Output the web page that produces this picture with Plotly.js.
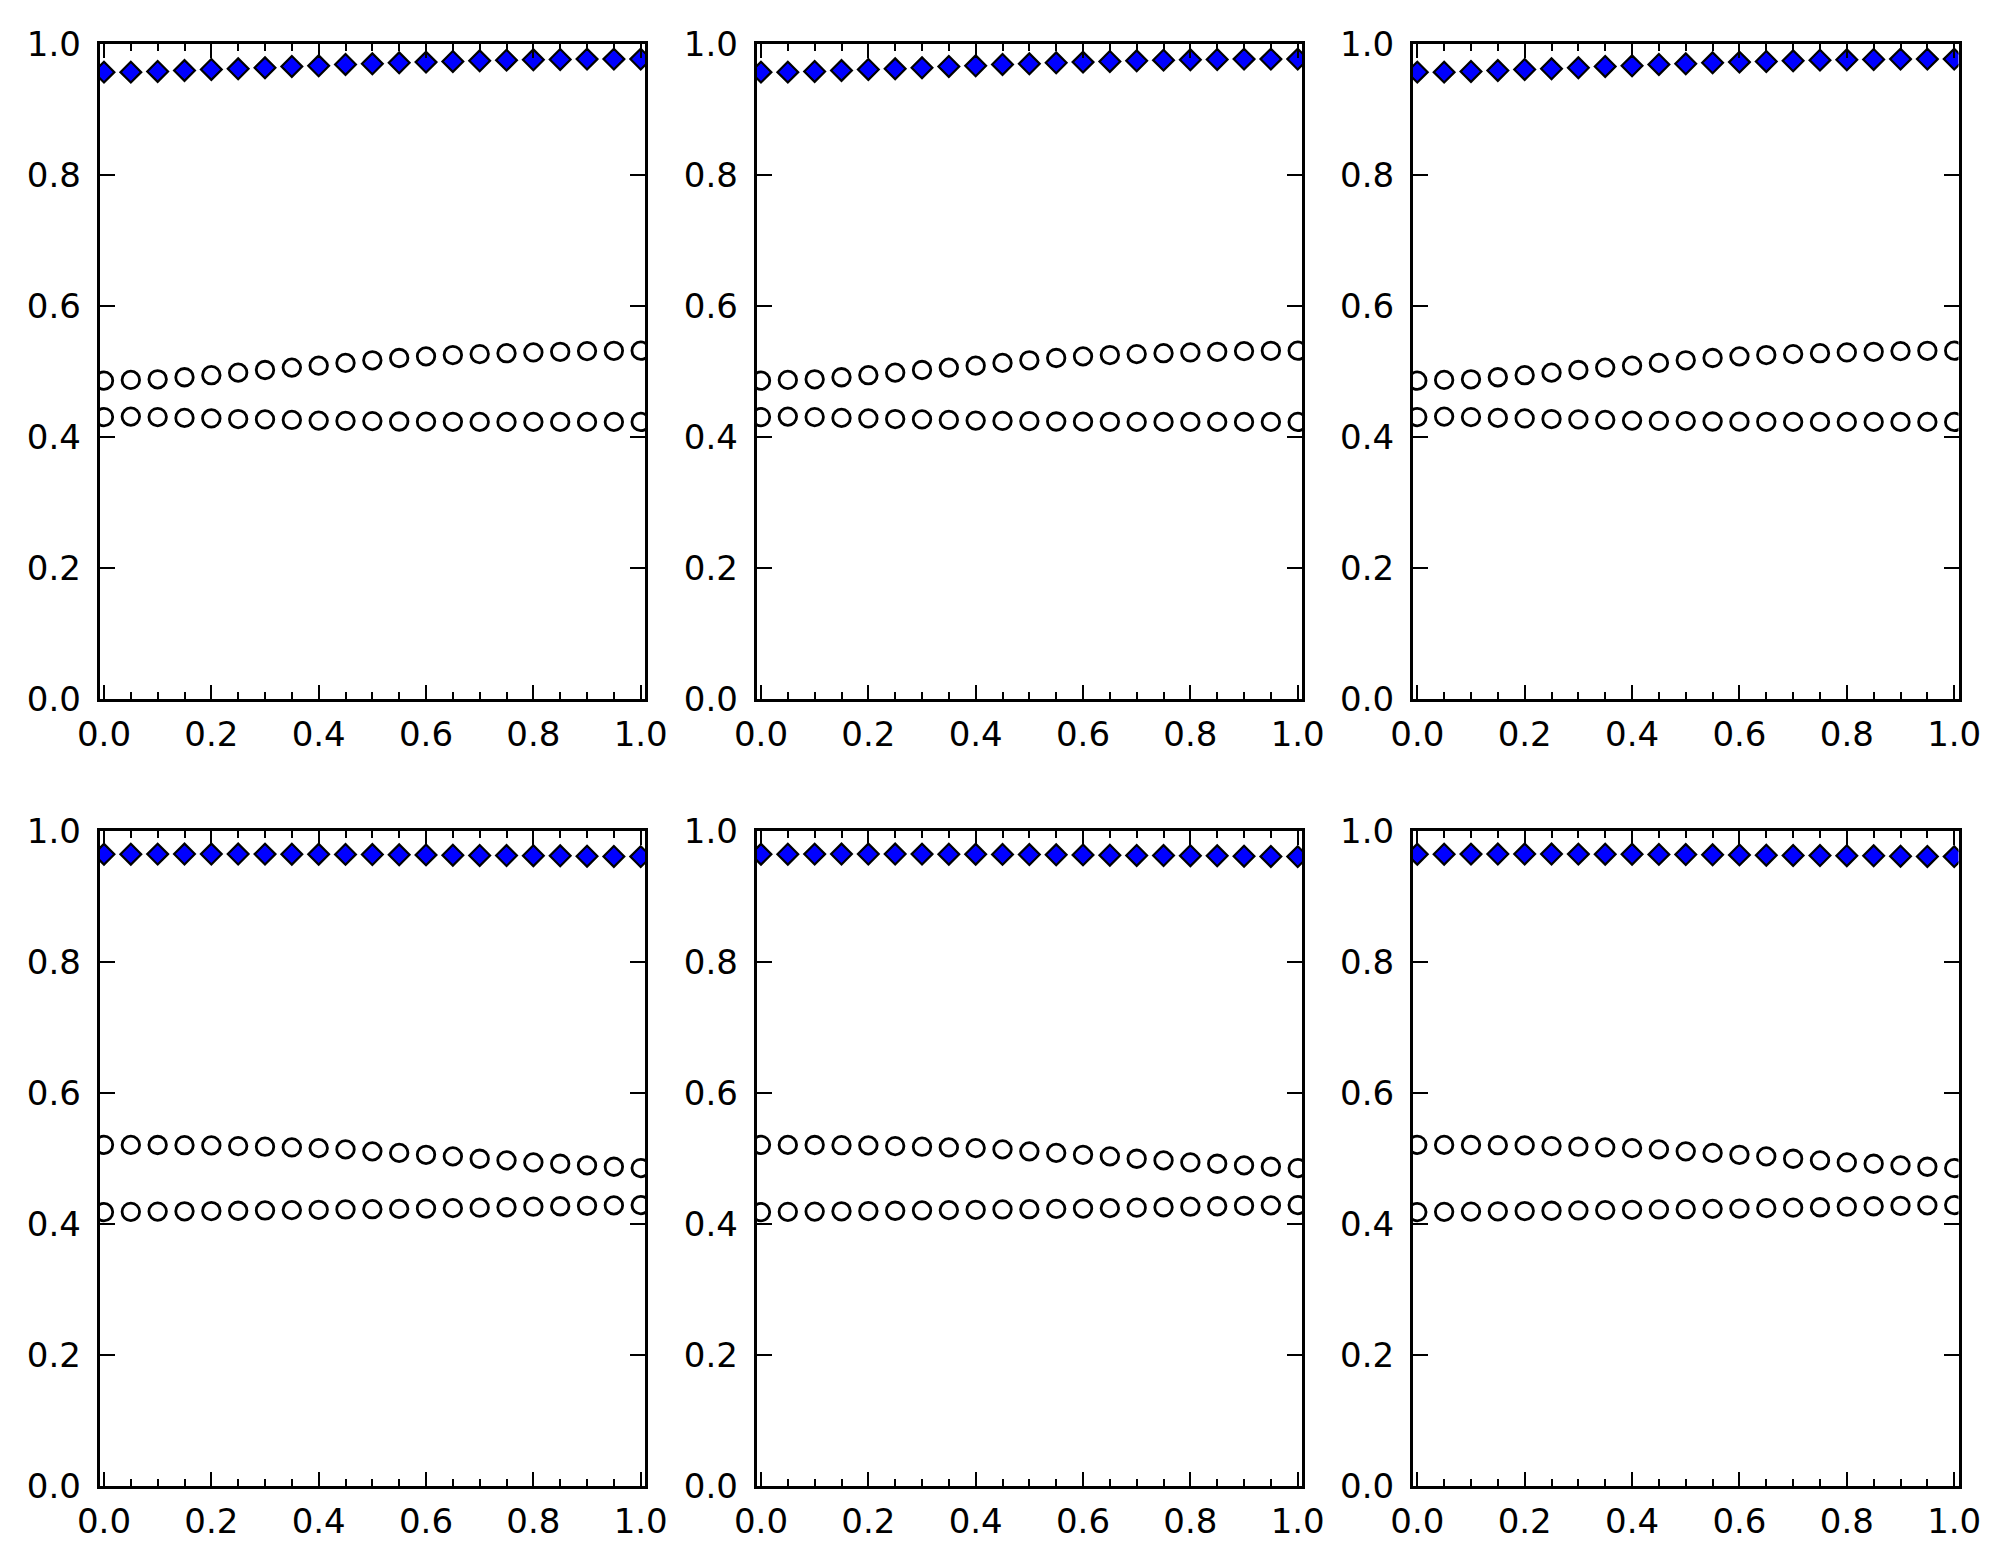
<!DOCTYPE html>
<html>
<head>
<meta charset="utf-8">
<script src="https://cdn.plot.ly/plotly-3.0.1.min.js"></script>
<style>html,body{margin:0;padding:0;background:#fff;}#chart{width:2011px;height:1565px;}</style>
</head>
<body>
<div id="chart"></div>
<script>
// ---- data ----
const xValues = [0.0, 0.05, 0.1, 0.15, 0.2, 0.25, 0.3, 0.35, 0.4, 0.45, 0.5, 0.55, 0.6, 0.65, 0.7, 0.75, 0.8, 0.85, 0.9, 0.95, 1.0];

// top row (panels 1-3)
const topDiamond = [0.9575, 0.9575, 0.9585, 0.9600, 0.9616, 0.9626, 0.9641, 0.9662, 0.9672, 0.9692, 0.9702, 0.9718, 0.9728, 0.9738, 0.9748, 0.9758, 0.9763, 0.9768, 0.9774, 0.9774, 0.9774];
const topUpperCircle = [0.4864, 0.4875, 0.4885, 0.4916, 0.4947, 0.4986, 0.5027, 0.5063, 0.5093, 0.5135, 0.5175, 0.5210, 0.5235, 0.5255, 0.5270, 0.5283, 0.5295, 0.5305, 0.5315, 0.5320, 0.5322];
const topLowerCircle = [0.4308, 0.4315, 0.4308, 0.4295, 0.4287, 0.4278, 0.4272, 0.4264, 0.4254, 0.4249, 0.4247, 0.4240, 0.4238, 0.4236, 0.4234, 0.4234, 0.4234, 0.4234, 0.4234, 0.4234, 0.4234];

// bottom row (panels 4-6)
const bottomDiamond = [0.9642, 0.9643, 0.9644, 0.9645, 0.9645, 0.9645, 0.9644, 0.9643, 0.9642, 0.9640, 0.9638, 0.9634, 0.9632, 0.9627, 0.9623, 0.9622, 0.9620, 0.9618, 0.9612, 0.9608, 0.9606];
const bottomUpperCircle = [0.5205, 0.5204, 0.5202, 0.5199, 0.5196, 0.5186, 0.5176, 0.5165, 0.5155, 0.5135, 0.5105, 0.5082, 0.5053, 0.5028, 0.4992, 0.4967, 0.4936, 0.4916, 0.4891, 0.4870, 0.4850];
const bottomLowerCircle = [0.4178, 0.4182, 0.4186, 0.4190, 0.4194, 0.4198, 0.4203, 0.4208, 0.4213, 0.4218, 0.4222, 0.4227, 0.4232, 0.4238, 0.4245, 0.4252, 0.4260, 0.4267, 0.4274, 0.4280, 0.4285];

const yTickVals = [0.0, 0.2, 0.4, 0.6, 0.8, 1.0];
const xTickVals = [0.0, 0.2, 0.4, 0.6, 0.8, 1.0];

// ---- layout helpers ----
const W = 2011, H = 1565;
const colDomains = [[99.7, 645], [756.7, 1302], [1413, 1958.5]].map(d => [d[0] / W, d[1] / W]);
const rowDomains = [[44.3, 699.2], [830.8, 1485.7]].map(d => [1 - d[1] / H, 1 - d[0] / H]);
const panelData = [
  [topDiamond, topUpperCircle, topLowerCircle],
  [bottomDiamond, bottomUpperCircle, bottomLowerCircle]
];

const font = {family: 'DejaVu Sans, sans-serif', size: 34, color: '#000'};
const traces = [];
const layout = {
  width: W, height: H, autosize: false,
  margin: {l: 0, r: 0, t: 0, b: 0},
  paper_bgcolor: '#fff', plot_bgcolor: '#fff',
  showlegend: false,
  font: font
};

let idx = 0;
for (let r = 0; r < 2; r++) {
  for (let c = 0; c < 3; c++) {
    idx++;
    const xa = idx === 1 ? 'x' : 'x' + idx;
    const ya = idx === 1 ? 'y' : 'y' + idx;
    const [dia, up, low] = panelData[r];
    const circleMarker = {symbol: 'circle', size: 17.5, color: 'rgba(255,255,255,0)', line: {color: '#000', width: 2.8}};
    traces.push({x: xValues, y: up, xaxis: xa, yaxis: ya, type: 'scatter', mode: 'markers', marker: circleMarker, hoverinfo: 'skip'});
    traces.push({x: xValues, y: low, xaxis: xa, yaxis: ya, type: 'scatter', mode: 'markers', marker: circleMarker, hoverinfo: 'skip'});
    traces.push({x: xValues, y: dia, xaxis: xa, yaxis: ya, type: 'scatter', mode: 'markers',
      marker: {symbol: 'diamond', size: 16, color: '#0000ff', line: {color: '#000', width: 2.2}}, hoverinfo: 'skip'});

    const xKey = idx === 1 ? 'xaxis' : 'xaxis' + idx;
    const yKey = idx === 1 ? 'yaxis' : 'yaxis' + idx;
    layout[xKey] = {
      domain: colDomains[c], anchor: ya, range: [-0.008, 1.008],
      showgrid: false, zeroline: false,
      showline: true, linecolor: '#000', linewidth: 3, mirror: 'ticks',
      ticks: 'inside', ticklen: 14, tickwidth: 2, tickcolor: '#000',
      tickmode: 'array', tickvals: xTickVals, tickformat: '.1f',
      minor: {dtick: 0.05, tick0: 0, ticks: 'inside', ticklen: 7, tickwidth: 2, tickcolor: '#000', showgrid: false},
      tickfont: font, ticklabelstandoff: 3, fixedrange: true
    };
    layout[yKey] = {
      domain: rowDomains[r], anchor: xa, range: [0, 1],
      showgrid: false, zeroline: false,
      showline: true, linecolor: '#000', linewidth: 3, mirror: 'ticks',
      ticks: 'inside', ticklen: 15, tickwidth: 2, tickcolor: '#000',
      tickmode: 'array', tickvals: yTickVals, tickformat: '.1f',
      tickfont: font, ticklabelstandoff: 9, fixedrange: true
    };
  }
}

Plotly.newPlot('chart', traces, layout, {staticPlot: true, displayModeBar: false});
</script>
</body>
</html>
